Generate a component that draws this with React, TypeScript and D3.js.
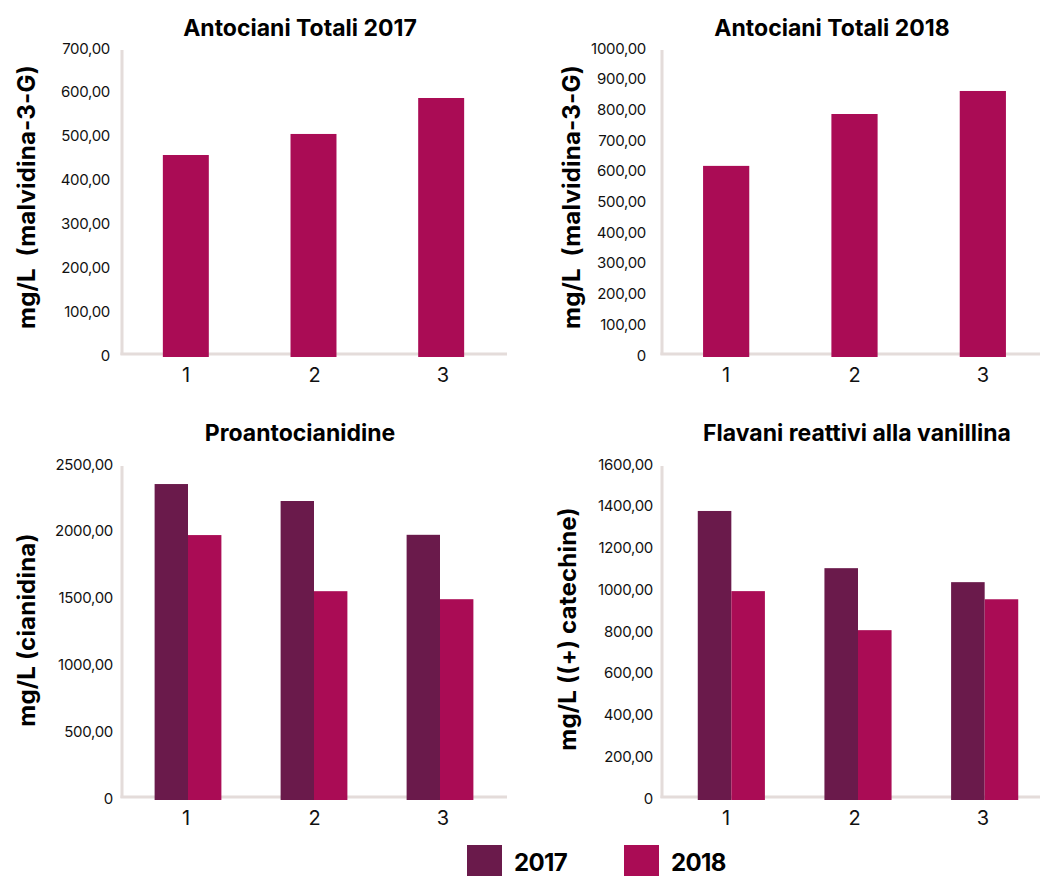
import React from "react";
import * as d3 from "d3";

// Sample categories on the x axis
const categories = ["1", "2", "3"];
const years = ["2017", "2018"];

// Antociani totali (mg/L malvidina-3-G)
const antociani2017 = [456, 504, 586];
const antociani2018 = [616, 785, 860];

// Proantocianidine (mg/L cianidina)
const proanto2017 = [2350, 2223, 1970];
const proanto2018 = [1968, 1548, 1488];

// Flavani reattivi alla vanillina (mg/L (+) catechine)
const flavani2017 = [1375, 1101, 1034];
const flavani2018 = [991, 804, 952];

// Y tick values per panel
const ticksAnto2017 = [0, 100, 200, 300, 400, 500, 600, 700];
const ticksAnto2018 = [0, 100, 200, 300, 400, 500, 600, 700, 800, 900, 1000];
const ticksProanto = [0, 500, 1000, 1500, 2000, 2500];
const ticksFlavani = [0, 200, 400, 600, 800, 1000, 1200, 1400, 1600];

const COLORS: Record<string, string> = { "2017": "#6a1a4b", "2018": "#aa0c55" };
const AXIS = "#e4dcda";
const FONT = "Inter, 'Noto Sans', sans-serif";

const fmt = (v: number) => (v === 0 ? "0" : d3.format(".2f")(v).replace(".", ","));

type Series = { key: string; values: number[] };

type PanelProps = {
  title: string;
  titleX: number;
  titleY: number;
  yTitle: string;
  yTitleX: number;
  yTitleY: number;
  axisX: number;
  axisRight: number;
  yBase: number;
  yTop: number;
  ticks: number[];
  tickRight: number;
  barRange: [number, number];
  groupFrac: number;
  series: Series[];
};

function Panel(p: PanelProps) {
  const max = p.ticks[p.ticks.length - 1];
  const y = d3.scaleLinear().domain([0, max]).range([p.yBase, p.yTop]);
  const xLabels = d3.scaleBand<string>().domain(categories).range([p.axisX, p.axisRight]);
  const xBars = d3.scaleBand<string>().domain(categories).range(p.barRange);
  const groupW = xBars.step() * p.groupFrac;
  const inner = d3
    .scaleBand<string>()
    .domain(p.series.map((s) => s.key))
    .range([-groupW / 2, groupW / 2]);

  return (
    <g>
      <text
        x={p.titleX}
        y={p.titleY}
        textAnchor="middle"
        fontFamily={FONT}
        fontWeight={700}
        fontSize={23}
        fill="#000"
      >
        {p.title}
      </text>
      <text
        transform={`translate(${p.yTitleX},${p.yTitleY}) rotate(-90)`}
        textAnchor="middle"
        dominantBaseline="central"
        fontFamily={FONT}
        fontWeight={700}
        fontSize={24}
        letterSpacing={0.2}
        style={{ whiteSpace: "pre" }}
        fill="#000"
      >
        {p.yTitle}
      </text>
      {p.ticks.map((t) => (
        <text
          key={t}
          x={p.tickRight}
          y={y(t)}
          textAnchor="end"
          dominantBaseline="central"
          fontFamily={FONT}
          fontSize={15}
          letterSpacing={-0.3}
          fill="#111"
        >
          {fmt(t)}
        </text>
      ))}
      <line x1={p.axisX} x2={p.axisX} y1={p.yTop + 2} y2={p.yBase} stroke={AXIS} strokeWidth={3} />
      <line x1={p.axisX - 1.5} x2={p.axisRight} y1={p.yBase - 1} y2={p.yBase - 1} stroke={AXIS} strokeWidth={3} />
      {p.series.map((s) =>
        s.values.map((v, i) => {
          const cx = (xBars(categories[i]) as number) + xBars.bandwidth() / 2;
          const x0 = cx + (inner(s.key) as number);
          return (
            <rect
              key={s.key + i}
              x={x0}
              y={y(v)}
              width={inner.bandwidth()}
              height={p.yBase + 2 - y(v)}
              fill={COLORS[s.key]}
            />
          );
        })
      )}
      {categories.map((c) => (
        <text
          key={c}
          x={(xLabels(c) as number) + xLabels.bandwidth() / 2}
          y={p.yBase + 27}
          textAnchor="middle"
          fontFamily={FONT}
          fontSize={20}
          fill="#111"
        >
          {c}
        </text>
      ))}
    </g>
  );
}

export default function App() {
  return (
    <svg
      width={1040}
      height={876}
      viewBox="0 0 1040 876"
      style={{ position: "absolute", left: 0, top: 0, background: "#fff" }}
    >
      <rect width={1040} height={876} fill="#fff" />
      <Panel
        title="Antociani Totali 2017"
        titleX={300}
        titleY={36}
        yTitle="mg/L  (malvidina-3-G)"
        yTitleX={26}
        yTitleY={197}
        axisX={122}
        axisRight={507}
        yBase={355}
        yTop={48}
        ticks={ticksAnto2017}
        tickRight={110}
        barRange={[122, 505]}
        groupFrac={0.36}
        series={[{ key: "2018", values: antociani2017 }]}
      />
      <Panel
        title="Antociani Totali 2018"
        titleX={832}
        titleY={36}
        yTitle="mg/L  (malvidina-3-G)"
        yTitleX={571}
        yTitleY={197}
        axisX={662}
        axisRight={1047}
        yBase={355}
        yTop={48}
        ticks={ticksAnto2018}
        tickRight={646}
        barRange={[662, 1047]}
        groupFrac={0.36}
        series={[{ key: "2018", values: antociani2018 }]}
      />
      <Panel
        title="Proantocianidine"
        titleX={300}
        titleY={441}
        yTitle="mg/L (cianidina)"
        yTitleX={26}
        yTitleY={630}
        axisX={122}
        axisRight={507}
        yBase={798}
        yTop={464}
        ticks={ticksProanto}
        tickRight={113}
        barRange={[125, 503]}
        groupFrac={0.53}
        series={years.map((k, j) => ({ key: k, values: [proanto2017, proanto2018][j] }))}
      />
      <Panel
        title="Flavani reattivi alla vanillina"
        titleX={857}
        titleY={441}
        yTitle="mg/L ((+) catechine)"
        yTitleX={567}
        yTitleY={629}
        axisX={662}
        axisRight={1047}
        yBase={798}
        yTop={464}
        ticks={ticksFlavani}
        tickRight={653}
        barRange={[668, 1048]}
        groupFrac={0.53}
        series={years.map((k, j) => ({ key: k, values: [flavani2017, flavani2018][j] }))}
      />
      {/* Legend */}
      {years.map((k, i) => (
        <g key={k} transform={`translate(${467 + i * 157},845)`}>
          <rect width={35} height={35} fill={COLORS[k]} />
          <text x={47} y={26} fontFamily={FONT} fontWeight={700} fontSize={24} letterSpacing={-0.6} fill="#000">
            {k}
          </text>
        </g>
      ))}
    </svg>
  );
}
